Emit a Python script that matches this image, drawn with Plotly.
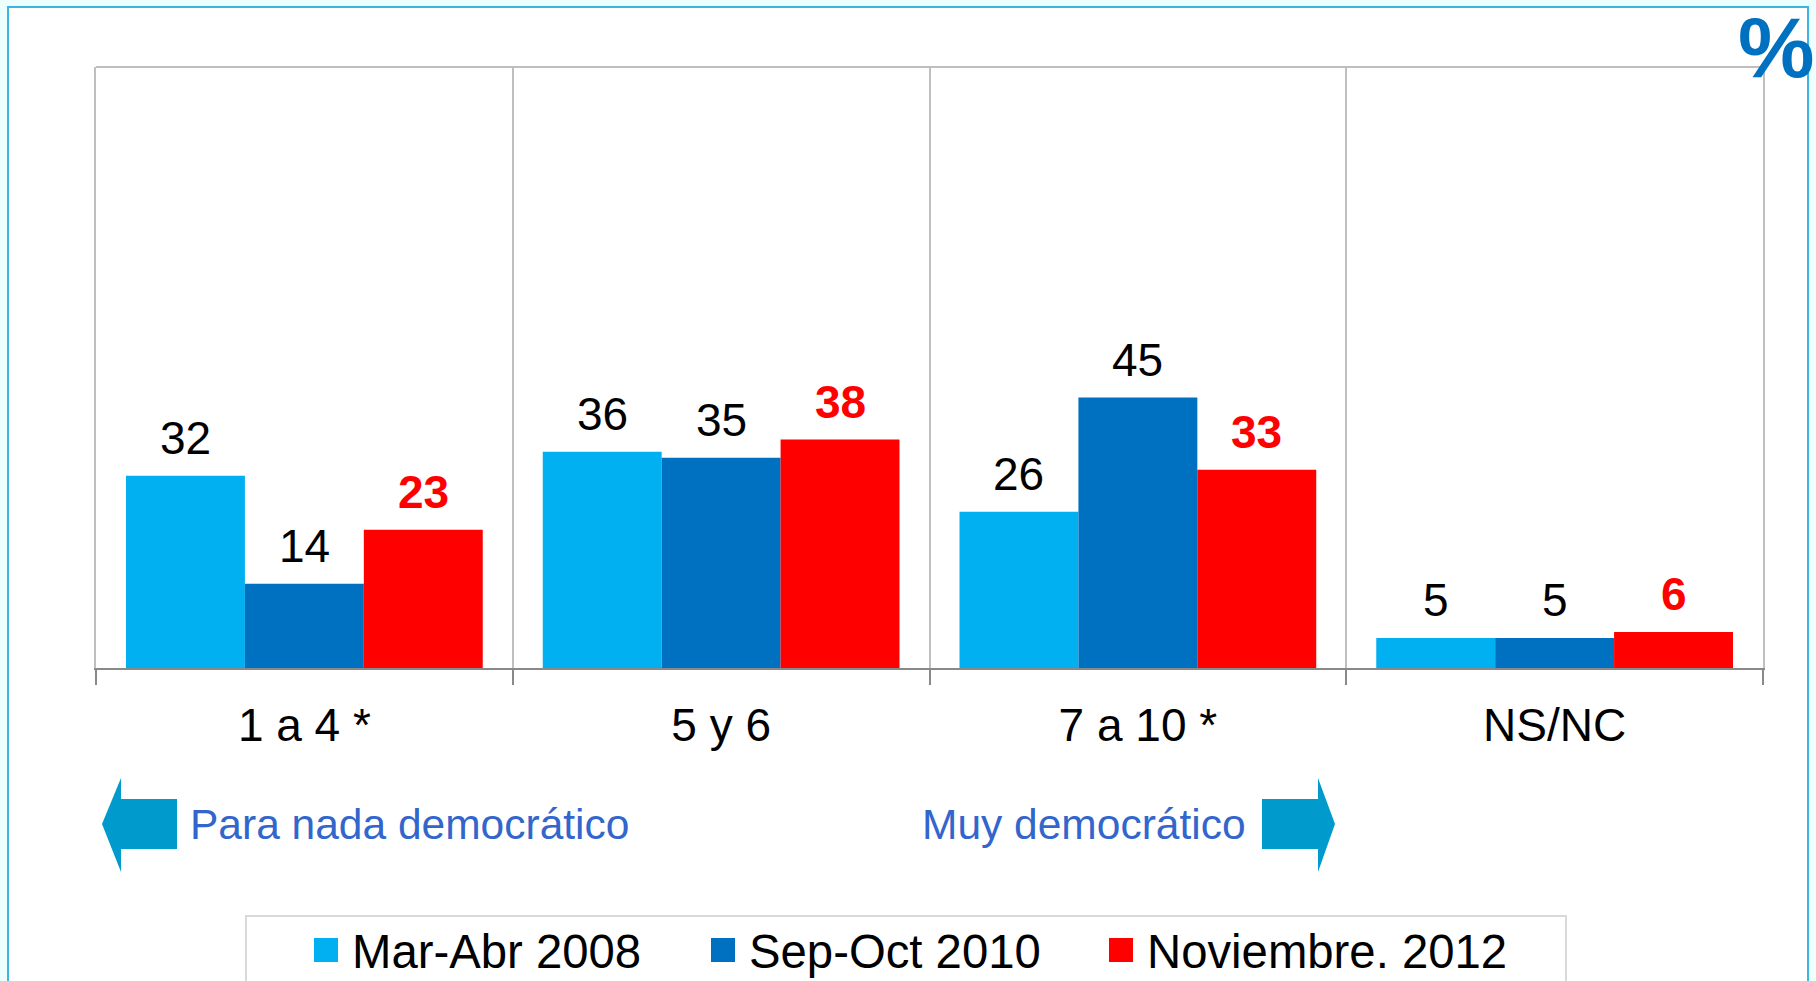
import plotly.graph_objects as go

# ---- data ----
categories = ["1 a 4 *", "5 y 6", "7 a 10 *", "NS/NC"]
series_names = ["Mar-Abr 2008", "Sep-Oct 2010", "Noviembre. 2012"]
mar_abr_2008 = [32, 36, 26, 5]
sep_oct_2010 = [14, 35, 45, 5]
noviembre_2012 = [23, 38, 33, 6]
series_values = [mar_abr_2008, sep_oct_2010, noviembre_2012]
series_colors = ["#00B0F0", "#0070C0", "#FF0000"]
label_colors = ["#000000", "#000000", "#FF0000"]
label_bold = [False, False, True]
left_note = "Para nada democrático"
right_note = "Muy democrático"
unit_label = "%"

FONT = "Arial, Liberation Sans, sans-serif"
W, H = 1816, 981
ML, MR, MT, MB = 96, 53, 67, 313
PW, PH = W - ML - MR, H - MT - MB
BARGAP = 0.144


def px(x):
    return (x - ML) / PW


def py(y):
    return (H - MB - y) / PH


fig = go.Figure()
for name, vals, col in zip(series_names, series_values, series_colors):
    fig.add_trace(go.Bar(
        name=name, x=categories, y=vals,
        marker=dict(color=col, line=dict(width=0)),
        showlegend=False,
    ))

shapes = []
annotations = []

# value labels, placed at each bar through the data scales
n_series = len(series_values)
bar_px = PW / len(categories) * (1 - BARGAP) / n_series
for i, (vals, lc, bold) in enumerate(zip(series_values, label_colors, label_bold)):
    for cat, v in zip(categories, vals):
        annotations.append(dict(
            x=cat, y=v, xref="x", yref="y",
            text=f"<b>{v}</b>" if bold else f"{v}",
            showarrow=False, xanchor="center", yanchor="middle",
            xshift=(i - (n_series - 1) / 2) * bar_px, yshift=38,
            font=dict(family=FONT, size=46, color=lc)))

# outer frame
shapes.append(dict(type="rect", xref="paper", yref="paper", layer="below",
                   x0=px(8), x1=px(1808), y0=py(1010), y1=py(7),
                   line=dict(color="#3DB5E0", width=2), fillcolor="#FFFFFF"))
# top border of plot area
shapes.append(dict(type="line", xref="paper", yref="paper", x0=0, x1=1, y0=1, y1=1,
                   line=dict(color="#BFBFBF", width=2)))

# arrows
arrow_col = "#009ACD"
yt, yb = py(778), py(872)
rt, rb = py(799), py(849)
ym = py(824)
left_arrow = (f"M {px(102)} {ym} L {px(121)} {yt} L {px(121)} {rt} L {px(177)} {rt} "
              f"L {px(177)} {rb} L {px(121)} {rb} L {px(121)} {yb} Z")
right_arrow = (f"M {px(1335)} {ym} L {px(1318)} {yt} L {px(1318)} {rt} L {px(1262)} {rt} "
               f"L {px(1262)} {rb} L {px(1318)} {rb} L {px(1318)} {yb} Z")
for p in (left_arrow, right_arrow):
    shapes.append(dict(type="path", xref="paper", yref="paper", path=p,
                       fillcolor=arrow_col, line=dict(width=0)))

annotations.append(dict(text=left_note, xref="paper", yref="paper", x=px(188), y=py(824),
                        xanchor="left", yanchor="middle", showarrow=False,
                        font=dict(family=FONT, size=42.5, color="#3366CC")))
annotations.append(dict(text=right_note, xref="paper", yref="paper", x=px(1248), y=py(824),
                        xanchor="right", yanchor="middle", showarrow=False,
                        font=dict(family=FONT, size=42.5, color="#3366CC")))

# percent sign
annotations.append(dict(text=f"<b>{unit_label}</b>", xref="paper", yref="paper",
                        x=px(1776), y=py(47), xanchor="center", yanchor="middle",
                        showarrow=False,
                        font=dict(family=FONT, size=86, color="#0070C0")))

# legend (box, swatches, labels)
shapes.append(dict(type="rect", xref="paper", yref="paper",
                   x0=px(246), x1=px(1566), y0=py(1010), y1=py(916),
                   line=dict(color="#D9D9D9", width=2), fillcolor="#FFFFFF"))
sw_x = [314, 711, 1109]
for name, col, sx in zip(series_names, series_colors, sw_x):
    shapes.append(dict(type="rect", xref="paper", yref="paper",
                       x0=px(sx), x1=px(sx + 24), y0=py(962), y1=py(938),
                       fillcolor=col, line=dict(width=0)))
    annotations.append(dict(text=name, xref="paper", yref="paper", x=px(sx + 36), y=py(951),
                            xanchor="left", yanchor="middle", showarrow=False,
                            font=dict(family=FONT, size=47.3, color="#000000")))

fig.update_layout(
    width=W, height=H,
    margin=dict(l=ML, r=MR, t=MT, b=MB, pad=0),
    paper_bgcolor="#EDFEFE",
    plot_bgcolor="#FFFFFF",
    barmode="group",
    bargap=BARGAP,
    bargroupgap=0,
    showlegend=False,
    shapes=shapes,
    annotations=annotations,
    font=dict(family=FONT),
)
fig.update_xaxes(
    type="category", range=[-0.5, 3.5],
    tickson="boundaries", ticks="outside", ticklen=15, tickwidth=2, tickcolor="#898989",
    showline=True, linecolor="#898989", linewidth=2,
    showgrid=True, gridcolor="#BFBFBF", gridwidth=2,
    tickfont=dict(family=FONT, size=46, color="#000000"),
    ticklabelstandoff=16,
)
fig.update_yaxes(
    range=[0, 100], showticklabels=False, showgrid=False, zeroline=False,
    showline=True, mirror=True, linecolor="#BFBFBF", linewidth=2, ticks="",
)

fig.write_html("out.html", config={"displayModeBar": False},
               post_script="document.body.style.margin='0';document.body.style.overflow='hidden';")
